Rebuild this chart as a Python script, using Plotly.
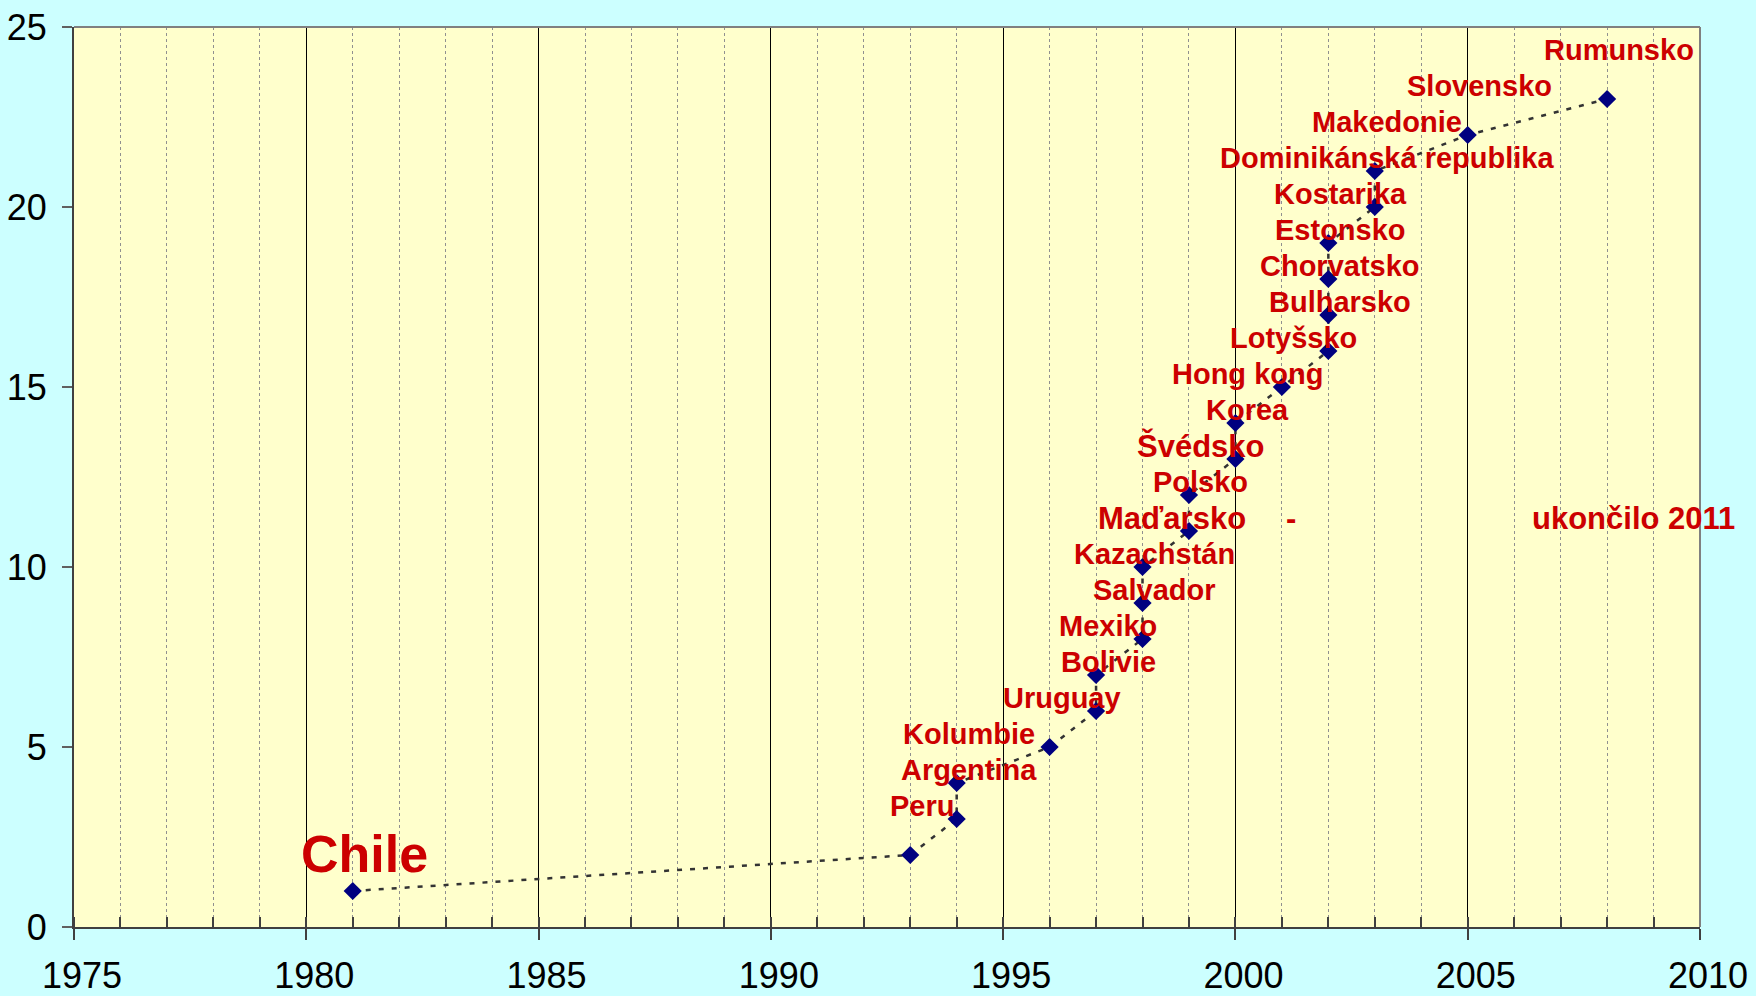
import plotly.graph_objects as go

# Data
countries = ["Chile", "Peru", "Argentina", "Kolumbie", "Uruguay", "Bolivie", "Mexiko",
             "Salvador", "Kazachstán", "Maďarsko", "Polsko", "Švédsko", "Korea",
             "Hong kong", "Lotyšsko", "Bulharsko", "Chorvatsko", "Estonsko", "Kostarika",
             "Dominikánská republika", "Makedonie", "Slovensko", "Rumunsko"]
years = [1981, 1993, 1994, 1994, 1996, 1997, 1997, 1998, 1998, 1998, 1999, 1999, 2000,
         2000, 2001, 2002, 2002, 2002, 2002, 2003, 2003, 2005, 2008]
counts = [1, 2, 3, 4, 5, 6, 7, 8, 9, 10, 11, 12, 13, 14, 15, 16, 17, 18, 19, 20, 21, 22, 23]
x_ticks = [1975, 1980, 1985, 1990, 1995, 2000, 2005, 2010]
y_ticks = [0, 5, 10, 15, 20, 25]
note_dash = "-"
note_text = "ukončilo 2011"

# Label styling (pixels)
label_font = {c: 29 for c in countries}
label_font["Chile"] = 52
label_font["Švédsko"] = 31
label_font["Maďarsko"] = 31
label_xshift = {c: 12 for c in countries}
label_xshift["Maďarsko"] = 29
label_yshift = {c: 49 for c in countries}
label_yshift["Chile"] = 37

FONT = "Liberation Sans, Arial, sans-serif"
RED = "#CC0000"

fig = go.Figure()
fig.add_trace(go.Scatter(
    x=years, y=counts, mode="lines+markers",
    line=dict(color="#333333", width=2.5, dash="5px,8px"),
    marker=dict(symbol="diamond", size=14, color="#000080"),
    showlegend=False, hoverinfo="skip",
))

annotations = []
for c, xv, yv in zip(countries, years, counts):
    annotations.append(dict(
        x=xv, y=yv, xref="x", yref="y", text=f"<b>{c}</b>", showarrow=False,
        xanchor="center", yanchor="middle",
        xshift=label_xshift[c], yshift=label_yshift[c],
        font=dict(family=FONT, size=label_font[c], color=RED),
    ))
i_h = countries.index("Maďarsko")
annotations.append(dict(x=years[i_h], y=counts[i_h], xref="x", yref="y",
                        text=f"<b>{note_dash}</b>", showarrow=False, xanchor="center",
                        yanchor="middle", xshift=148, yshift=49,
                        font=dict(family=FONT, size=31, color=RED)))
annotations.append(dict(x=years[i_h], y=counts[i_h], xref="x", yref="y",
                        text=f"<b>{note_text}</b>", showarrow=False, xanchor="center",
                        yanchor="middle", xshift=491, yshift=49,
                        font=dict(family=FONT, size=31, color=RED)))

fig.update_layout(
    width=1756, height=996, autosize=False,
    margin=dict(l=74, r=56, t=27, b=69, pad=0, autoexpand=False),
    paper_bgcolor="#CCFFFF", plot_bgcolor="#FFFFCC",
    font=dict(family=FONT, color="black"),
    annotations=annotations,
    shapes=[
        dict(type="line", xref="paper", yref="paper", x0=0, x1=1, y0=1, y1=1,
             line=dict(color="#808080", width=2)),
        dict(type="line", xref="paper", yref="paper", x0=1, x1=1, y0=0, y1=1,
             line=dict(color="#808080", width=2)),
    ],
)
fig.update_xaxes(
    range=[1975, 2010], tickmode="array", tickvals=x_ticks, ticktext=[str(t) for t in x_ticks],
    tickfont=dict(size=36, family=FONT, color="black"),
    ticks="outside", ticklen=11, tickwidth=2, tickcolor="#404040",
    showline=True, linecolor="#404040", linewidth=2,
    showgrid=True, gridcolor="#000000", gridwidth=1,
    minor=dict(dtick=1, tick0=1975, showgrid=True, gridcolor="#909090", griddash="dot",
               gridwidth=1, ticks="inside", ticklen=10, tickcolor="#404040", tickwidth=2),
    zeroline=False, ticklabelstandoff=5, ticklabelshift=8, automargin=False,
)
fig.update_yaxes(
    range=[0, 25], tickmode="array", tickvals=y_ticks, ticktext=[str(t) for t in y_ticks],
    tickfont=dict(size=36, family=FONT, color="black"),
    ticks="outside", ticklen=10, tickwidth=2, tickcolor="#606060",
    showline=True, linecolor="#404040", linewidth=2,
    showgrid=False, zeroline=False, ticklabelstandoff=8, automargin=False,
)

fig.write_html(
    "out.html",
    config={"displayModeBar": False},
    post_script="document.body.style.margin='0';document.body.style.overflow='hidden';",
)
